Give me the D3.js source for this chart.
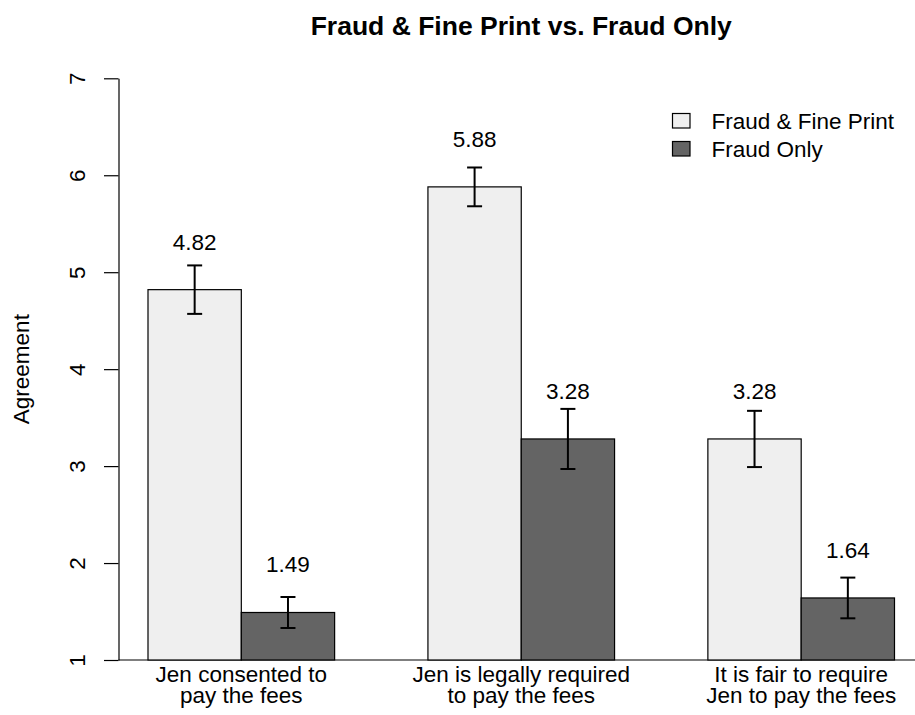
<!DOCTYPE html>
<html>
<head>
<meta charset="utf-8">
<script src="https://cdn.jsdelivr.net/npm/d3@7"></script>
<style>
  body { margin: 0; background: #fff; }
  svg text { font-family: "Liberation Sans", Arial, Helvetica, sans-serif; fill: #000; }
</style>
</head>
<body>
<svg id="chart" width="915" height="715"></svg>
<script>
const categories = [["Jen consented to", "pay the fees"], ["Jen is legally required", "to pay the fees"], ["It is fair to require", "Jen to pay the fees"]];
const seriesNames = ["Fraud & Fine Print", "Fraud Only"];
const fraudFinePrint = [4.82, 5.88, 3.28];
const fraudFinePrintErr = [0.25, 0.20, 0.29];
const fraudOnly = [1.49, 3.28, 1.64];
const fraudOnlyErr = [0.16, 0.31, 0.21];
const yTicks = [1, 2, 3, 4, 5, 6, 7];
const colors = ["#efefef", "#646464"];

const title = "Fraud & Fine Print vs. Fraud Only";
const yLabel = "Agreement";

const svg = d3.select("#chart");
const FS = 22.5;

const values = [fraudFinePrint, fraudOnly];
const errs = [fraudFinePrintErr, fraudOnlyErr];
const catKeys = categories.map((c, i) => i);

const y = d3.scaleLinear().domain([1, 7]).range([660, 78.3]);
const x0 = d3.scaleBand().domain(catKeys).range([148, 894.5]).paddingInner(1/3).paddingOuter(0);
const x1 = d3.scaleBand().domain(seriesNames).range([0, x0.bandwidth()]).padding(0);
const axisX = 118.5;

// title
svg.append("text")
  .attr("x", (x0(0) + x0(2) + x0.bandwidth()) / 2)
  .attr("y", 35)
  .attr("text-anchor", "middle")
  .style("font-size", "26.5px")
  .style("font-weight", "bold")
  .text(title);

// baseline
svg.append("line")
  .attr("x1", axisX).attr("x2", 915)
  .attr("y1", y(1)).attr("y2", y(1))
  .attr("stroke", "#000").attr("stroke-width", 1.2);

// bars
const groups = svg.append("g").selectAll("g")
  .data(catKeys).join("g")
  .attr("transform", d => `translate(${x0(d)},0)`);

groups.each(function(ci) {
  const g = d3.select(this);
  seriesNames.forEach((s, si) => {
    const v = values[si][ci];
    const e = errs[si][ci];
    const bx = x1(s);
    const bw = x1.bandwidth();
    g.append("rect")
      .attr("x", bx).attr("y", y(v))
      .attr("width", bw).attr("height", y(1) - y(v))
      .attr("fill", colors[si])
      .attr("stroke", "#000").attr("stroke-width", 1.2);
    const cx = bx + bw / 2;
    const eg = g.append("g").attr("stroke", "#000").attr("stroke-width", 2);
    eg.append("line").attr("x1", cx).attr("x2", cx).attr("y1", y(v + e)).attr("y2", y(v - e));
    eg.append("line").attr("x1", cx - 7.5).attr("x2", cx + 7.5).attr("y1", y(v + e)).attr("y2", y(v + e));
    eg.append("line").attr("x1", cx - 7.5).attr("x2", cx + 7.5).attr("y1", y(v - e)).attr("y2", y(v - e));
    g.append("text")
      .attr("x", cx).attr("y", y(v) - 40)
      .attr("text-anchor", "middle")
      .style("font-size", FS + "px")
      .text(v.toFixed(2));
  });
  const t = g.append("text")
    .attr("y", 682)
    .attr("text-anchor", "middle")
    .style("font-size", FS + "px");
  categories[ci].forEach((line, li) => {
    t.append("tspan")
      .attr("x", x0.bandwidth() / 2)
      .attr("y", 682 + li * 21)
      .text(line);
  });
});

// y axis
const yAxis = d3.axisLeft(y).tickValues(yTicks).tickSize(14.5).tickSizeOuter(0).tickFormat(d3.format("d"));
const ag = svg.append("g").attr("transform", `translate(${axisX},0)`).call(yAxis);
ag.select(".domain").attr("stroke-width", 1.2);
ag.selectAll(".tick line").attr("stroke-width", 1.2);
ag.selectAll(".tick text")
  .attr("transform", "rotate(-90)")
  .attr("x", 0).attr("y", -33.5).attr("dy", 0)
  .attr("text-anchor", "middle")
  .style("font-size", FS + "px")
  .style("font-family", "'Liberation Sans', Arial, sans-serif");

// y label
svg.append("text")
  .attr("transform", `translate(29,${y(4)}) rotate(-90)`)
  .attr("text-anchor", "middle")
  .style("font-size", FS + "px")
  .text(yLabel);

// legend
const leg = svg.append("g");
seriesNames.forEach((s, i) => {
  leg.append("rect")
    .attr("x", 672.5).attr("y", 113.5 + i * 28)
    .attr("width", 17.5).attr("height", 14.5)
    .attr("fill", colors[i]).attr("stroke", "#000").attr("stroke-width", 1.2);
  leg.append("text")
    .attr("x", 711.5).attr("y", 129 + i * 28)
    .style("font-size", FS + "px")
    .text(s);
});
</script>
</body>
</html>
